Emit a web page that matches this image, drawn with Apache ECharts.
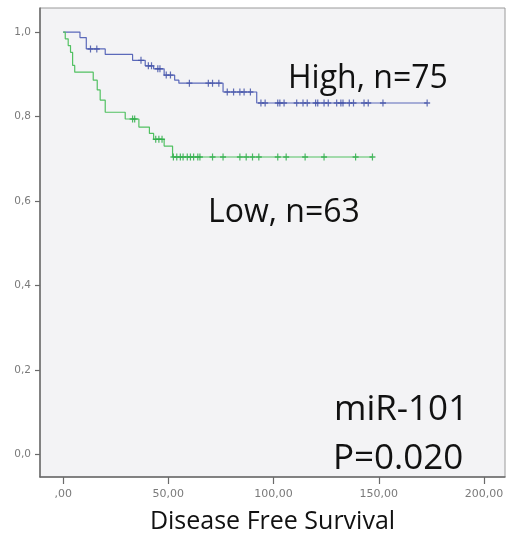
<!DOCTYPE html>
<html>
<head>
<meta charset="utf-8">
<script src="https://cdn.jsdelivr.net/npm/echarts@6/dist/echarts.min.js"></script>
<style>
  html, body { margin: 0; padding: 0; background: #ffffff; }
  #chart { width: 509px; height: 537px; }
</style>
</head>
<body>
<div id="chart"></div>
<script>
// Kaplan–Meier disease free survival, split by miR-101 expression.
// Each event time starts a new survival level (step curve).
const highEventTimes = [0, 8, 11, 20, 33, 39, 43, 48, 53, 55, 76, 92];
const highSurvival   = [1.0, 0.987, 0.960, 0.947, 0.933, 0.920, 0.913, 0.898, 0.886, 0.879, 0.858, 0.832];
const highLastFollowUp = 173;
const highCensored = [13, 16, 37, 40.5, 42, 45, 46, 49, 51, 60, 69, 71, 74, 78, 81, 84, 86, 89,
  94, 96, 102, 103, 105, 111, 114, 116, 120, 121, 124, 126, 130, 132, 133, 136, 138, 143, 145, 152, 173];

const lowEventTimes = [0, 1, 2.4, 3.5, 4.5, 5.5, 14.3, 16.2, 17.6, 20, 29.5, 36, 41, 43, 48, 52];
const lowSurvival   = [1.0, 0.984, 0.968, 0.952, 0.921, 0.905, 0.886, 0.863, 0.839, 0.810, 0.794, 0.775, 0.760, 0.746, 0.730, 0.704];
const lowLastFollowUp = 147;
const lowCensored = [33, 34, 44, 45.5, 47, 52.4, 54, 55.7, 57, 59, 60.5, 62, 64, 65, 71, 76, 84, 87, 90, 93,
  102, 106, 115, 124, 139, 147];

const xTicks = [0, 50, 100, 150, 200];
const yTicks = [0, 0.2, 0.4, 0.6, 0.8, 1.0];

const highColor = '#5b69ba';
const highMarkColor = '#4453a8';
const lowColor = '#52c162';
const lowMarkColor = '#2fae4a';

function stepLine(times, surv, lastTime) {
  const pts = times.map((t, i) => [t, surv[i]]);
  pts.push([lastTime, surv[surv.length - 1]]);
  return pts;
}
function survivalAt(times, surv, t) {
  let s = surv[0];
  for (let i = 0; i < times.length; i++) { if (times[i] <= t) s = surv[i]; }
  return s;
}
function censorPoints(times, surv, cens) {
  return cens.map(t => [t, survivalAt(times, surv, t)]);
}

const plusMark = 'path://M2,0h1v2h2v1h-2v2h-1v-2h-2v-1h2z';
const bigFont = '"Open Sans", "DejaVu Sans", sans-serif';

const chart = echarts.init(document.getElementById('chart'), null, { renderer: 'canvas' });
chart.setOption({
  animation: false,
  backgroundColor: '#ffffff',
  grid: {
    left: 40, right: 4, top: 8, bottom: 60,
    outerBoundsMode: 'none', containLabel: false,
    show: true, backgroundColor: '#f3f3f5', borderColor: '#9a9a9a', borderWidth: 1
  },
  xAxis: {
    type: 'value', min: -11, max: 210,
    name: 'Disease Free Survival', nameLocation: 'middle', nameGap: 32,
    nameTextStyle: { fontFamily: bigFont, fontSize: 25, color: '#111111' },
    axisLine: { show: true, onZero: false, lineStyle: { color: '#6a6a6a', width: 1.5 } },
    axisTick: { show: true, customValues: xTicks, length: 7, lineStyle: { color: '#6a6a6a', width: 1.2 } },
    axisLabel: {
      customValues: xTicks, margin: 12,
      fontFamily: '"DejaVu Sans", sans-serif', fontSize: 11, color: '#7a7a7a',
      formatter: v => (v === 0 ? '' : String(v)) + ',00'
    },
    splitLine: { show: false }
  },
  yAxis: {
    type: 'value', min: -0.054, max: 1.057,
    axisLine: { show: true, onZero: false, lineStyle: { color: '#6a6a6a', width: 1.5 } },
    axisTick: { show: true, customValues: yTicks, length: 5, lineStyle: { color: '#6a6a6a', width: 1.2 } },
    axisLabel: {
      customValues: yTicks, margin: 9,
      fontFamily: '"DejaVu Sans", sans-serif', fontSize: 10.5, color: '#7a7a7a',
      formatter: v => v.toFixed(1).replace('.', ',')
    },
    splitLine: { show: false }
  },
  series: [
    {
      name: 'High', type: 'line', step: 'end', showSymbol: false,
      data: stepLine(highEventTimes, highSurvival, highLastFollowUp),
      lineStyle: { color: highColor, width: 1.2 }, z: 2
    },
    {
      name: 'High censored', type: 'scatter', symbol: plusMark, symbolSize: [6, 7],
      data: censorPoints(highEventTimes, highSurvival, highCensored),
      itemStyle: { color: highMarkColor, opacity: 0.85 }, z: 3
    },
    {
      name: 'Low', type: 'line', step: 'end', showSymbol: false,
      data: stepLine(lowEventTimes, lowSurvival, lowLastFollowUp),
      lineStyle: { color: lowColor, width: 1.2 }, z: 2
    },
    {
      name: 'Low censored', type: 'scatter', symbol: plusMark, symbolSize: [6, 7],
      data: censorPoints(lowEventTimes, lowSurvival, lowCensored),
      itemStyle: { color: lowMarkColor, opacity: 0.85 }, z: 3
    }
  ],
  graphic: [
    { type: 'text', left: 288, top: 63, z: 10,
      style: { text: 'High, n=75', font: '32px ' + bigFont, fill: '#111111' } },
    { type: 'text', left: 208, top: 197, z: 10,
      style: { text: 'Low, n=63', font: '32px ' + bigFont, fill: '#111111' } },
    { type: 'text', left: 334, top: 393, z: 10,
      style: { text: 'miR-101', font: '35px ' + bigFont, fill: '#111111' } },
    { type: 'text', left: 333, top: 442, z: 10,
      style: { text: 'P=0.020', font: '35px ' + bigFont, fill: '#111111' } }
  ]
});
</script>
</body>
</html>
